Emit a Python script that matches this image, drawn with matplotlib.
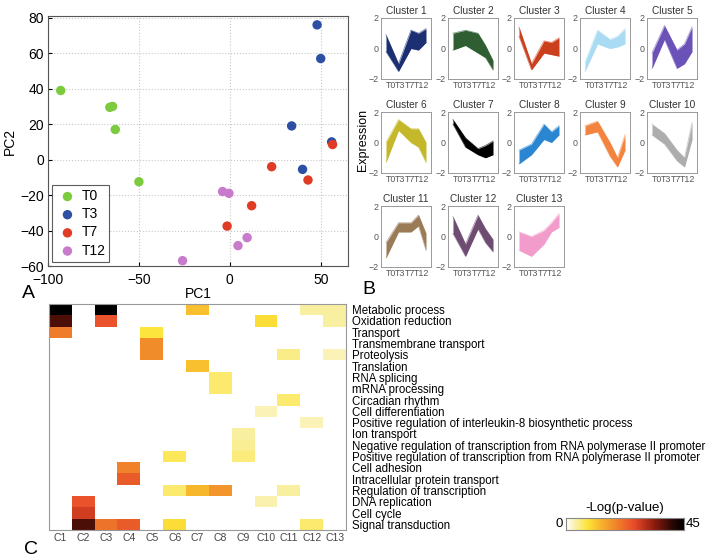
import numpy as np
import matplotlib
matplotlib.use("Agg")
import matplotlib.pyplot as plt
from matplotlib.colors import LinearSegmentedColormap

plt.rcParams['font.family'] = ['Liberation Sans', 'DejaVu Sans']

W, H = 715, 560

# --- panel A: PCA scores
t0_pc1 = [-93, -66, -64.5, -63, -50]
t0_pc2 = [39, 29.5, 30, 17, -12.5]
t3_pc1 = [48, 50, 34, 56, 40]
t3_pc2 = [76, 57, 19, 10, -5.5]
t7_pc1 = [56.5, 23, 43, 12, -1.5]
t7_pc2 = [8.5, -4, -11.5, -26, -37.5]
t12_pc1 = [-4, -0.5, 4.5, 9.5, -26]
t12_pc2 = [-18, -19, -48.5, -44, -57]

# --- panel B: cluster expression envelopes (upper / lower) at each sample step
sample_x = [0, 1, 2, 2.6, 3.2]
cluster_upper = [
    [0.9, -1.0, 1.2, 1.0, 1.3],
    [1.0, 1.2, 1.0, 0.2, -0.8],
    [1.4, -1.0, 0.5, 0.4, 0.7],
    [-0.9, 1.2, 0.6, 0.8, 1.3],
    [-0.3, 1.5, -0.1, 0.3, 1.4],
    [0.0, 1.5, 0.9, 0.9, 0.0],
    [1.5, 0.3, -0.4, -0.2, 0.1],
    [-0.5, -0.1, 1.2, 0.7, 1.1],
    [1.1, 1.4, 0.0, -1.0, 0.5],
    [1.2, 0.6, -0.5, -1.0, 1.3],
    [-0.4, 0.9, 0.9, 1.4, 0.2],
    [1.3, -0.5, 1.4, 0.5, -0.2],
    [0.3, 0.0, 0.4, 0.9, 1.5],
]
cluster_lower = [
    [-0.2, -1.5, 0.0, -0.1, 0.4],
    [-0.1, 0.2, -0.3, -0.6, -1.4],
    [0.8, -1.4, -0.3, -0.4, -0.5],
    [-1.5, 0.3, 0.0, 0.1, 0.3],
    [-1.3, 0.6, -1.3, -1.0, -0.2],
    [-1.3, 0.8, 0.0, -0.3, -1.3],
    [1.2, -0.3, -0.8, -1.0, -0.8],
    [-1.4, -0.8, 0.2, 0.0, 0.5],
    [0.5, 0.7, -0.9, -1.6, -0.5],
    [0.5, -0.1, -1.2, -1.6, 0.2],
    [-1.4, 0.3, 0.3, 0.7, -0.9],
    [0.2, -1.3, 0.5, -0.4, -1.0],
    [-0.9, -1.3, -0.5, 0.3, 0.6],
]
cluster_colors = ['#1b2f72', '#2f5e32', '#cc3f1c', '#a9dcf2', '#6b52b8',
                  '#c4b82a', '#000000', '#2b86d2', '#f2843f', '#adadad',
                  '#9b7a56', '#6f4c72', '#f29ccb']
time_labels = ['T0', 'T3', 'T7', 'T12']

# --- panel C: GO enrichment, -log(p) per term (rows) and cluster (cols)
go_terms = ['Metabolic process', 'Oxidation reduction', 'Transport',
            'Transmembrane transport', 'Proteolysis', 'Translation',
            'RNA splicing', 'mRNA processing', 'Circadian rhythm',
            'Cell differentiation',
            'Positive regulation of interleukin-8 biosynthetic process',
            'Ion transport',
            'Negative regulation of transcription from RNA polymerase II promoter',
            'Positive regulation of transcription from RNA polymerase II promoter',
            'Cell adhesion', 'Intracellular protein transport',
            'Regulation of transcription', 'DNA replication', 'Cell cycle',
            'Signal transduction']
cluster_names = ['C%d' % i for i in range(1, 14)]
neg_log_p = [
    [45, 0, 45, 0, 0, 0, 12, 0, 0, 0, 0, 4, 4],
    [38, 0, 25, 0, 0, 0, 0, 0, 0, 9, 0, 0, 4],
    [20, 0, 0, 0, 8, 0, 0, 0, 0, 0, 0, 0, 0],
    [0, 0, 0, 0, 18, 0, 0, 0, 0, 0, 0, 0, 0],
    [0, 0, 0, 0, 18, 0, 0, 0, 0, 0, 5, 0, 3],
    [0, 0, 0, 0, 0, 0, 12, 0, 0, 0, 0, 0, 0],
    [0, 0, 0, 0, 0, 0, 0, 6, 0, 0, 0, 0, 0],
    [0, 0, 0, 0, 0, 0, 0, 6, 0, 0, 0, 0, 0],
    [0, 0, 0, 0, 0, 0, 0, 0, 0, 0, 6, 0, 0],
    [0, 0, 0, 0, 0, 0, 0, 0, 0, 3, 0, 0, 0],
    [0, 0, 0, 0, 0, 0, 0, 0, 0, 0, 0, 3, 0],
    [0, 0, 0, 0, 0, 0, 0, 0, 4, 0, 0, 0, 0],
    [0, 0, 0, 0, 0, 0, 0, 0, 4.5, 0, 0, 0, 0],
    [0, 0, 0, 0, 0, 7, 0, 0, 5.5, 0, 0, 0, 0],
    [0, 0, 0, 19, 0, 0, 0, 0, 0, 0, 0, 0, 0],
    [0, 0, 0, 24, 0, 0, 0, 0, 0, 0, 0, 0, 0],
    [0, 0, 0, 0, 0, 6, 13, 17, 0, 0, 4, 0, 0],
    [0, 25, 0, 0, 0, 0, 0, 0, 0, 3.5, 0, 0, 0],
    [0, 28, 0, 0, 0, 0, 0, 0, 0, 0, 0, 0, 0],
    [0, 38, 21, 24, 0, 9, 0, 0, 0, 0, 0, 6, 0],
]


def ax_px(fig, left, top, w, h):
    return fig.add_axes([left / W, 1 - (top + h) / H, w / W, h / H])


fig = plt.figure(figsize=(W / 100, H / 100), dpi=100)

# ---------------- A
ax = ax_px(fig, 48, 16, 300, 250)
groups = [('T0', t0_pc1, t0_pc2, '#7ccb3e'), ('T3', t3_pc1, t3_pc2, '#2d4fa4'),
          ('T7', t7_pc1, t7_pc2, '#e03b24'), ('T12', t12_pc1, t12_pc2, '#c97bcb')]
for name, xs, ys, c in groups:
    ax.scatter(xs, ys, s=46, color=c, label=name, zorder=3, edgecolors='none')
ax.set_xlim(-100, 65)
ax.set_ylim(-60, 81)
ax.set_xticks([-100, -50, 0, 50])
ax.set_yticks(range(-60, 81, 20))
ax.grid(True, linestyle=':', color='#c8c8c8', linewidth=0.8)
ax.tick_params(direction='in', labelsize=10, length=3)
ax.tick_params(axis='x', pad=5)
ax.tick_params(axis='y', pad=3)
for s in ax.spines.values():
    s.set_color('#555555')
ax.set_xlabel('PC1', fontsize=10, labelpad=0)
ax.set_ylabel('PC2', fontsize=10, labelpad=2)
leg = ax.legend(loc='lower left', fontsize=10, frameon=True, fancybox=False,
                handletextpad=0.2, borderpad=0.3, labelspacing=0.3,
                borderaxespad=0.3, scatterpoints=1, handlelength=1.6)
leg.get_frame().set_edgecolor('#333333')
leg.get_frame().set_linewidth(0.8)

# ---------------- B
lefts = [381, 448, 514, 580, 647]
tops = [18, 112, 206]
for i in range(13):
    r, c = divmod(i, 5)
    bx = ax_px(fig, lefts[c], tops[r], 50, 61)
    bx.fill_between(sample_x, cluster_lower[i], cluster_upper[i],
                    color=cluster_colors[i], linewidth=0)
    bx.plot(sample_x, cluster_upper[i], color=cluster_colors[i], lw=0.6, alpha=0.6)
    bx.plot(sample_x, cluster_lower[i], color=cluster_colors[i], lw=0.6, alpha=0.6)
    bx.set_xlim(-0.4, 3.6)
    bx.set_ylim(-2, 2)
    bx.set_yticks([-2, 0, 2])
    bx.set_yticklabels(['\u22122', '0', '2'])
    bx.set_xticks([0.4, 1.15, 1.9, 2.85])
    bx.set_xticklabels(time_labels)
    bx.tick_params(labelsize=6.4, length=0, pad=1.5, colors='#555555')
    for s in bx.spines.values():
        s.set_color('#999999')
        s.set_linewidth(0.7)
    bx.set_title('Cluster %d' % (i + 1), fontsize=7.3, color='#333333', pad=3)
fig.text(363 / W, 1 - 140 / H, 'Expression', rotation=90, fontsize=9,
         ha='center', va='center')

# ---------------- C
cmap = LinearSegmentedColormap.from_list(
    'gohot', [(0.0, '#ffffff'), (0.08, '#f9f0a8'), (0.18, '#fde53a'),
              (0.3, '#f7b22c'), (0.45, '#ef7a2a'), (0.58, '#e84a2a'),
              (0.75, '#8c1c0e'), (0.9, '#2a0805'), (1.0, '#000000')])
hx = ax_px(fig, 49, 304, 297, 226)
hx.imshow(np.array(neg_log_p), cmap=cmap, vmin=0, vmax=45, aspect='auto',
          interpolation='nearest')
hx.set_xticks(range(len(cluster_names)))
hx.set_xticklabels(cluster_names)
hx.set_yticks(range(len(go_terms)))
hx.set_yticklabels(go_terms)
hx.yaxis.tick_right()
hx.tick_params(axis='x', labelsize=7.5, length=0, pad=2, colors='#444444')
hx.tick_params(axis='y', labelsize=8.3, length=0, pad=4)
for s in hx.spines.values():
    s.set_color('#999999')

cx = ax_px(fig, 566, 518, 118, 12)
cx.imshow(np.linspace(0, 45, 256)[None, :], cmap=cmap, aspect='auto',
          extent=[0, 45, 0, 1])
cx.set_xticks([])
cx.set_yticks([])
for s in cx.spines.values():
    s.set_color('#888888')
fig.text(625 / W, 1 - 508 / H, '-Log(p-value)', fontsize=9.5, ha='center', va='center')
fig.text(563 / W, 1 - 524 / H, '0', fontsize=9.5, ha='right', va='center')
fig.text(686 / W, 1 - 524 / H, '45', fontsize=9.5, ha='left', va='center')

# panel letters
fig.text(22 / W, 1 - 294 / H, 'A', fontsize=14, va='center')
fig.text(362 / W, 1 - 290 / H, 'B', fontsize=14, va='center')
fig.text(24 / W, 1 - 550 / H, 'C', fontsize=14, va='center')

fig.savefig('out.png', dpi=100)
